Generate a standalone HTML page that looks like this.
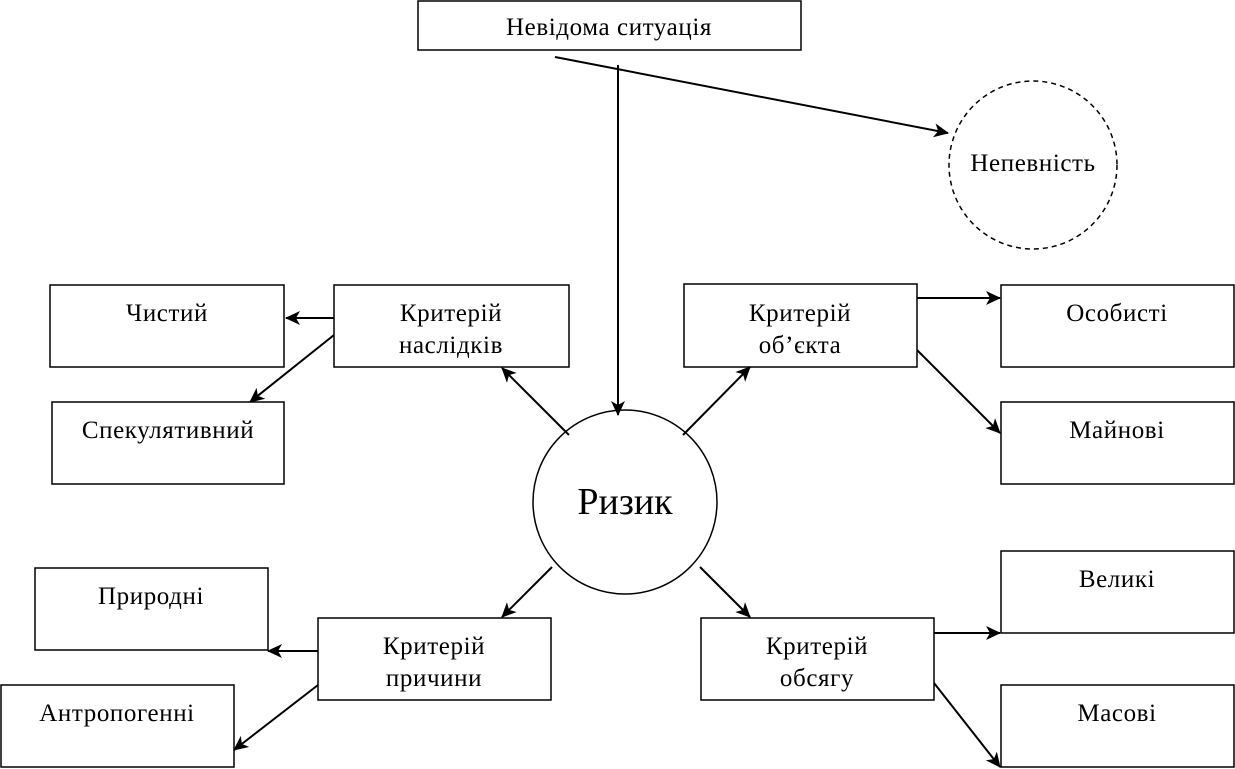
<!DOCTYPE html>
<html><head><meta charset="utf-8"><style>
html,body{margin:0;padding:0;background:#fff;}
svg{display:block;}
text{font-family:"Liberation Serif",serif;font-size:25px;letter-spacing:0.6px;fill:#000;text-anchor:middle;}
rect{fill:#fff;stroke:#000;stroke-width:1.5;}
line{stroke:#000;stroke-width:2;}
</style></head><body>
<svg width="1235" height="769" viewBox="0 0 1235 769" xmlns="http://www.w3.org/2000/svg">
<defs><marker id="b" markerWidth="16" markerHeight="14" refX="14" refY="7" orient="auto" markerUnits="userSpaceOnUse"><path d="M0,0 L15,7 L0,14 L4,7 z" fill="#000"/></marker></defs>
<rect x="418" y="1" width="383" height="49"/><text x="609" y="35">Невідома ситуація</text>
<circle cx="1033" cy="165" r="84" fill="none" stroke="#000" stroke-width="1.5" stroke-dasharray="5,4"/><text x="1033" y="171">Непевність</text>
<rect x="50" y="285" width="234" height="82"/><text x="167" y="321">Чистий</text>
<rect x="334" y="285" width="235" height="82"/><text x="451" y="321">Критерій</text><text x="451" y="353">наслідків</text>
<rect x="52" y="402" width="232" height="82"/><text x="168" y="438">Спекулятивний</text>
<rect x="684" y="284" width="233" height="83"/><text x="800" y="321">Критерій</text><text x="800" y="353">об’єкта</text>
<rect x="1001" y="285" width="233" height="82"/><text x="1117" y="321">Особисті</text>
<rect x="1001" y="402" width="233" height="82"/><text x="1117" y="438">Майнові</text>
<circle cx="625" cy="502" r="92" fill="#fff" stroke="#000" stroke-width="1.5"/><text x="625" y="514" style="font-size:38px;letter-spacing:0">Ризик</text>
<rect x="35" y="568" width="233" height="82"/><text x="151" y="604">Природні</text>
<rect x="318" y="618" width="233" height="82"/><text x="434" y="654">Критерій</text><text x="434" y="686">причини</text>
<rect x="1" y="685" width="233" height="82"/><text x="117" y="721">Антропогенні</text>
<rect x="701" y="618" width="233" height="82"/><text x="817" y="654">Критерій</text><text x="817" y="686">обсягу</text>
<rect x="1001" y="551" width="233" height="82"/><text x="1117" y="587">Великі</text>
<rect x="1001" y="685" width="233" height="82"/><text x="1117" y="721">Масові</text>
<line x1="618" y1="65" x2="618" y2="415" marker-end="url(#b)"/>
<line x1="555" y1="57" x2="948" y2="133" stroke-width="2.5" marker-end="url(#b)"/>
<line x1="569" y1="435" x2="502" y2="368" stroke-width="2.5" marker-end="url(#b)"/>
<line x1="683" y1="435" x2="750" y2="367" stroke-width="2.5" marker-end="url(#b)"/>
<line x1="552" y1="567" x2="502" y2="617" stroke-width="2.5" marker-end="url(#b)"/>
<line x1="700" y1="567" x2="750" y2="617" stroke-width="2.5" marker-end="url(#b)"/>
<line x1="334" y1="318" x2="286" y2="318" stroke-width="3.5" marker-end="url(#b)"/>
<line x1="334" y1="335" x2="250" y2="402" marker-end="url(#b)"/>
<line x1="917" y1="298" x2="1000" y2="298" stroke-width="3" marker-end="url(#b)"/>
<line x1="917" y1="350" x2="1000" y2="433" stroke-width="2.5" marker-end="url(#b)"/>
<line x1="318" y1="651" x2="268" y2="651" stroke-width="3.5" marker-end="url(#b)"/>
<line x1="318" y1="685" x2="234" y2="750" marker-end="url(#b)"/>
<line x1="934" y1="633" x2="1000" y2="633" stroke-width="3" marker-end="url(#b)"/>
<line x1="934" y1="683" x2="1000" y2="767" marker-end="url(#b)"/>
</svg>
</body></html>
